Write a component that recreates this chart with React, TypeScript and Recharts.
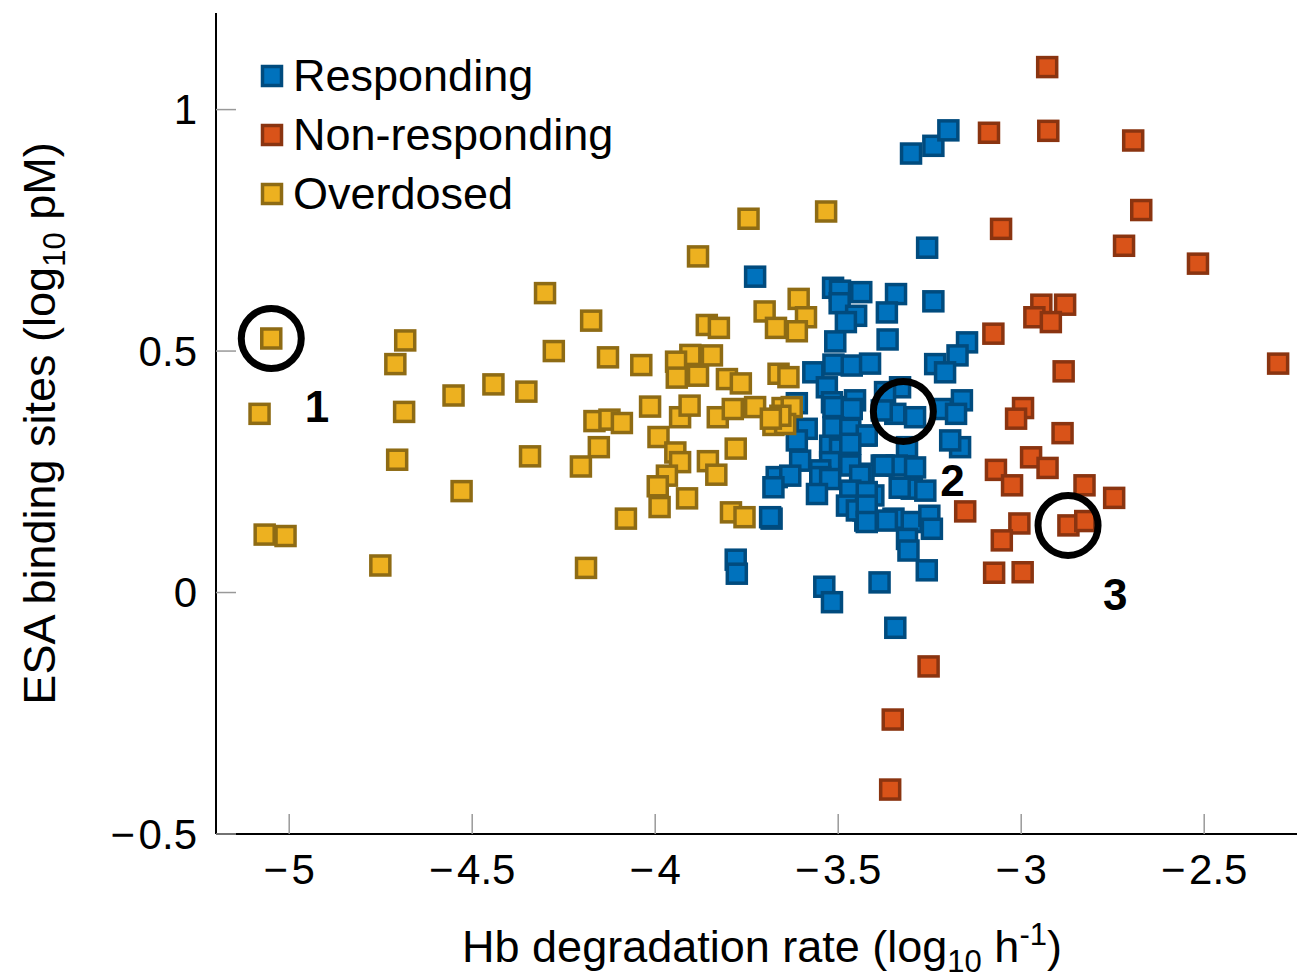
import React from 'react';
import {
  ScatterChart,
  Scatter,
  XAxis,
  YAxis,
  Legend,
  ReferenceDot,
} from 'recharts';

// ---------- data ----------
const responding: [number, number][] = [
  [-3.301, 0.909], [-3.24, 0.925], [-3.199, 0.957], [-3.257, 0.714], [-3.24, 0.603],
  [-3.727, 0.654], [-3.514, 0.631], [-3.495, 0.625], [-3.437, 0.622], [-3.342, 0.618],
  [-3.367, 0.58], [-3.496, 0.599], [-3.451, 0.573], [-3.479, 0.56], [-3.508, 0.52],
  [-3.365, 0.524], [-3.513, 0.472], [-3.568, 0.456], [-3.463, 0.47], [-3.413, 0.474],
  [-3.531, 0.425], [-3.454, 0.398], [-3.517, 0.394], [-3.613, 0.392], [-3.148, 0.518],
  [-3.174, 0.491], [-3.235, 0.473], [-3.208, 0.456], [-3.331, 0.425], [-3.372, 0.415],
  [-3.162, 0.398], [-3.217, 0.38], [-3.344, 0.37], [-3.29, 0.363], [-3.178, 0.37],
  [-3.426, 0.325], [-3.167, 0.301], [-3.194, 0.315], [-3.312, 0.301], [-3.381, 0.263],
  [-3.34, 0.263], [-3.29, 0.259], [-3.431, 0.246], [-3.299, 0.215], [-3.262, 0.211],
  [-3.332, 0.217], [-3.404, 0.201], [-3.431, 0.17], [-3.426, 0.149], [-3.349, 0.153],
  [-3.299, 0.146], [-3.251, 0.159], [-3.244, 0.132], [-3.312, 0.111], [-3.308, 0.087],
  [-3.258, 0.046], [-3.387, 0.021], [-3.538, 0.012], [-3.517, -0.02], [-3.344, -0.073],
  [-3.78, 0.068], [-3.777, 0.039], [-3.682, 0.153], [-3.513, 0.384], [-3.463, 0.38],
  [-3.381, 0.377], [-3.513, 0.342], [-3.467, 0.339], [-3.422, 0.325], [-3.586, 0.339],
  [-3.613, 0.315], [-3.522, 0.304], [-3.495, 0.298], [-3.467, 0.308], [-3.604, 0.273],
  [-3.522, 0.27], [-3.549, 0.253], [-3.467, 0.263], [-3.376, 0.263], [-3.668, 0.239],
  [-3.631, 0.242], [-3.549, 0.239], [-3.522, 0.235], [-3.44, 0.242], [-3.677, 0.218],
  [-3.558, 0.204], [-3.467, 0.211], [-3.422, 0.208], [-3.476, 0.18], [-3.449, 0.17],
  [-3.422, 0.18], [-3.686, 0.156], [-3.422, 0.146], [-3.367, 0.149],
];

const nonResponding: [number, number][] = [
  [-2.929, 1.088], [-3.088, 0.952], [-2.926, 0.956], [-2.694, 0.936], [-2.672, 0.792],
  [-3.055, 0.753], [-2.719, 0.718], [-2.517, 0.681], [-2.945, 0.596], [-2.88, 0.596],
  [-2.964, 0.57], [-2.919, 0.56], [-3.076, 0.536], [-2.884, 0.458], [-2.298, 0.474],
  [-2.995, 0.382], [-3.014, 0.36], [-2.887, 0.33], [-2.973, 0.28], [-2.928, 0.258],
  [-3.069, 0.254], [-3.025, 0.222], [-2.827, 0.222], [-2.746, 0.196], [-3.153, 0.168],
  [-3.005, 0.143], [-2.871, 0.139], [-2.825, 0.148], [-3.053, 0.108], [-3.074, 0.041],
  [-2.996, 0.042], [-3.253, -0.153], [-3.351, -0.263], [-3.358, -0.408],
];

const overdosed: [number, number][] = [
  [-5.049, 0.526], [-5.081, 0.37], [-4.683, 0.522], [-4.71, 0.473], [-4.686, 0.374],
  [-4.705, 0.275], [-4.551, 0.408], [-4.442, 0.431], [-4.352, 0.416], [-4.301, 0.62],
  [-4.175, 0.563], [-4.277, 0.5], [-4.129, 0.487], [-4.166, 0.355], [-4.125, 0.358],
  [-4.091, 0.351], [-4.154, 0.301], [-4.203, 0.261], [-4.342, 0.282], [-4.529, 0.21],
  [-5.067, 0.12], [-5.01, 0.117], [-4.751, 0.056], [-4.189, 0.051], [-4.08, 0.153],
  [-3.745, 0.774], [-3.883, 0.696], [-3.533, 0.789], [-3.608, 0.608], [-3.701, 0.582],
  [-3.588, 0.57], [-3.859, 0.554], [-3.826, 0.548], [-3.67, 0.548], [-3.613, 0.541],
  [-4.038, 0.471], [-3.904, 0.492], [-3.845, 0.491], [-3.943, 0.478], [-3.941, 0.445],
  [-3.883, 0.449], [-3.804, 0.442], [-3.766, 0.433], [-3.663, 0.453], [-3.636, 0.446],
  [-4.014, 0.385], [-3.932, 0.363], [-3.906, 0.387], [-3.829, 0.363], [-3.788, 0.38],
  [-3.727, 0.384], [-3.652, 0.382], [-3.627, 0.384], [-3.677, 0.347], [-3.645, 0.349],
  [-3.991, 0.322], [-3.945, 0.29], [-3.932, 0.27], [-3.78, 0.298], [-3.856, 0.272],
  [-3.833, 0.244], [-3.968, 0.242], [-3.993, 0.22], [-3.988, 0.177], [-3.913, 0.195],
  [-3.793, 0.166], [-3.756, 0.156], [-3.658, 0.366], [-3.684, 0.36],
];

const seriesNames = ['Responding', 'Non-responding', 'Overdosed'];
const seriesFill = ['#0072BD', '#D95319', '#EDB120'];
const seriesStroke = ['#004b7e', '#8a3410', '#8e6b14'];
const seriesData = [responding, nonResponding, overdosed];

const xTicks = [-5, -4.5, -4, -3.5, -3, -2.5];
const yTicks = [-0.5, 0, 0.5, 1];
const xDomain: [number, number] = [-5.2, -2.2];
const yDomain: [number, number] = [-0.5, 1.2];

const circles: [number, number][] = [
  [-5.049, 0.526],
  [-3.322, 0.375],
  [-2.872, 0.139],
];
const circleLabels = ['1', '2', '3'];
const labelPos: [number, number][] = [
  [-4.924, 0.385],
  [-3.188, 0.232],
  [-2.743, -0.004],
];

// ---------- helpers ----------
const FONT = '"Liberation Sans", Arial, Helvetica, sans-serif';
const fmt = (v: number) => String(v).replace('-', '\u2212\u200A');

const makeSquare = (fill: string, stroke: string) => (props: any) => {
  const { cx, cy } = props;
  if (cx == null || cy == null) return <g />;
  const s = 19;
  return (
    <rect
      x={cx - s / 2}
      y={cy - s / 2}
      width={s}
      height={s}
      fill={fill}
      stroke={stroke}
      strokeWidth={3.5}
    />
  );
};

const XLabel = (props: any) => {
  const vb = props.viewBox || { x: 216, y: 834, width: 1098, height: 144 };
  const cx = vb.x + vb.width / 2 - 3;
  const y = 962;
  return (
    <text x={cx} y={y} textAnchor="middle" fontSize={45} fill="#000" fontFamily={FONT}>
      Hb degradation rate (log
      <tspan fontSize={31} dy={10}>10</tspan>
      <tspan dy={-10}> h</tspan>
      <tspan fontSize={31} dy={-17}>-1</tspan>
      <tspan dy={17}>)</tspan>
    </text>
  );
};

const YLabel = (props: any) => {
  const vb = props.viewBox || { x: 0, y: 13, width: 216, height: 821 };
  const cy = vb.y + vb.height / 2;
  const x = 55;
  return (
    <text
      x={x}
      y={cy}
      transform={`rotate(-90, ${x}, ${cy})`}
      textAnchor="middle"
      fontSize={45}
      fill="#000"
      fontFamily={FONT}
    >
      ESA binding sites (log
      <tspan fontSize={31} dy={10}>10</tspan>
      <tspan dy={-10}> pM)</tspan>
    </text>
  );
};

const LegendContent = () => (
  <svg width={420} height={190} style={{ display: 'block' }}>
    {seriesNames.map((name, i) => {
      const cy = 36 + i * 59;
      return (
        <g key={name}>
          <rect
            x={22 - 9.5}
            y={cy - 9.5}
            width={19}
            height={19}
            fill={seriesFill[i]}
            stroke={seriesStroke[i]}
            strokeWidth={3.5}
          />
          <text x={43} y={cy + 15} fontSize={45} fill="#000" fontFamily={FONT}>
            {name}
          </text>
        </g>
      );
    })}
  </svg>
);

export default function App() {
  const tickStyle = { stroke: '#999', strokeWidth: 1.5 };
  const axisStyle = { stroke: '#000', strokeWidth: 2 };
  return (
    <div
      style={{
        position: 'fixed',
        left: 0,
        top: 0,
        width: 1297,
        height: 978,
        overflow: 'hidden',
        background: '#fff',
        fontFamily: FONT,
      }}
    >
      <ScatterChart
        width={1340}
        height={978}
        margin={{ top: 13, right: 26, bottom: 0, left: 0 }}
        style={{ fontFamily: FONT }}
      >
        <XAxis
          type="number"
          dataKey="x"
          domain={xDomain}
          ticks={xTicks}
          allowDataOverflow
          height={144}
          tickSize={-20}
          tickMargin={40}
          tickLine={tickStyle}
          axisLine={axisStyle}
          tickFormatter={fmt}
          tick={{ fill: '#000', fontSize: 42, fontFamily: FONT }}
          interval={0}
          label={{ content: XLabel }}
        />
        <XAxis
          xAxisId="top"
          orientation="top"
          type="number"
          dataKey="x"
          domain={xDomain}
          ticks={xTicks}
          allowDataOverflow
          height={0}
          tickSize={-20}
          tickLine={tickStyle}
          axisLine={axisStyle}
          tickFormatter={() => ''}
          interval={0}
        />
        <YAxis
          type="number"
          dataKey="y"
          domain={yDomain}
          ticks={yTicks}
          allowDataOverflow
          width={216}
          tickSize={-20}
          tickMargin={39}
          tickLine={tickStyle}
          axisLine={axisStyle}
          tickFormatter={fmt}
          tick={{ fill: '#000', fontSize: 42, fontFamily: FONT }}
          interval={0}
          label={{ content: YLabel }}
        />
        <YAxis
          yAxisId="right"
          orientation="right"
          type="number"
          dataKey="y"
          domain={yDomain}
          ticks={yTicks}
          allowDataOverflow
          width={0}
          tickSize={-20}
          tickLine={tickStyle}
          axisLine={axisStyle}
          tickFormatter={() => ''}
          interval={0}
        />
        <Legend
          layout="vertical"
          align="center"
          verticalAlign="middle"
          content={LegendContent}
          wrapperStyle={{ left: 250, top: 40, width: 420, height: 190 }}
        />
        {seriesData.map((d, i) => (
          <Scatter
            key={seriesNames[i]}
            name={seriesNames[i]}
            data={d.map(([x, y]) => ({ x, y }))}
            fill={seriesFill[i]}
            shape={makeSquare(seriesFill[i], seriesStroke[i])}
            isAnimationActive={false}
          />
        ))}
        {circles.map(([x, y], i) => (
          <ReferenceDot
            key={'c' + i}
            x={x}
            y={y}
            r={30}
            fill="none"
            stroke="#000"
            strokeWidth={7}
            ifOverflow="visible"
          />
        ))}
        {labelPos.map(([x, y], i) => (
          <ReferenceDot
            key={'l' + i}
            x={x}
            y={y}
            r={0}
            fill="none"
            stroke="none"
            ifOverflow="visible"
            label={{
              value: circleLabels[i],
              position: 'center',
              fontSize: 44,
              fontWeight: 'bold',
              fill: '#000',
              fontFamily: FONT,
            }}
          />
        ))}
      </ScatterChart>
    </div>
  );
}
